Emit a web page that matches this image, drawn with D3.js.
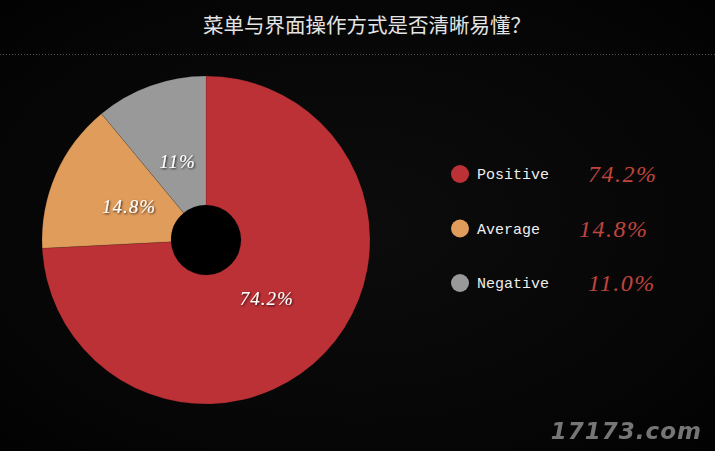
<!DOCTYPE html>
<html><head><meta charset="utf-8">
<script src="https://cdn.jsdelivr.net/npm/d3@7/dist/d3.min.js"></script>
<style>
html,body{margin:0;padding:0;background:#030303;}
svg{display:block;}
</style></head>
<body>
<svg id="c" width="715" height="451"></svg>
<script>
const title = "菜单与界面操作方式是否清晰易懂？";
const categories = ["Positive", "Average", "Negative"];
const values = [74.2, 14.8, 11.0];
const sliceLabels = ["74.2%", "14.8%", "11%"];
const legendValues = ["74.2%", "14.8%", "11.0%"];
const colors = ["#bb3135", "#e09c5b", "#999999"];

const svg = d3.select("#c");
const W = 715, H = 451;

// background with subtle texture
const defs = svg.append("defs");
const rg = defs.append("radialGradient").attr("id","bg").attr("cx","50%").attr("cy","50%").attr("r","70%");
rg.append("stop").attr("offset","0%").attr("stop-color","#0c0c0c");
rg.append("stop").attr("offset","60%").attr("stop-color","#070707");
rg.append("stop").attr("offset","100%").attr("stop-color","#020202");
svg.append("rect").attr("width",W).attr("height",H).attr("fill","url(#bg)");

const sh = defs.append("filter").attr("id","ts").attr("x","-20%").attr("y","-20%").attr("width","140%").attr("height","140%");
sh.append("feDropShadow").attr("dx",1).attr("dy",1).attr("stdDeviation",1).attr("flood-color","#000").attr("flood-opacity",0.8);

// title
svg.append("text").attr("x",367).attr("y",33).attr("text-anchor","middle")
  .attr("font-family","'Noto Sans CJK SC', sans-serif").attr("font-size",20.5)
  .attr("fill","#e4e4e4").text(title);
svg.append("line").attr("x1",0).attr("x2",W).attr("y1",54.5).attr("y2",54.5)
  .attr("stroke","#5a4a48").attr("stroke-width",1).attr("stroke-dasharray","1,2");

// pie
const cx = 206, cy = 240, rOuter = 164, rInner = 35;
const pie = d3.pie().sort(null).value(d => d)(values);
const arc = d3.arc().innerRadius(rInner).outerRadius(rOuter);
const labelArc = d3.arc().innerRadius(84).outerRadius(84);
const g = svg.append("g").attr("transform",`translate(${cx},${cy})`);
g.append("circle").attr("r",rInner).attr("fill","#000");
g.selectAll("path").data(pie).join("path")
  .attr("d", arc).attr("fill",(d,i)=>colors[i])
  .attr("stroke","rgba(0,0,0,0.25)").attr("stroke-width",0.5);
g.selectAll("text").data(pie).join("text")
  .attr("transform", d => `translate(${labelArc.centroid(d)})`)
  .attr("text-anchor","middle").attr("dy","0.35em")
  .attr("font-family","'Liberation Serif', 'DejaVu Serif', serif")
  .attr("font-style","italic").attr("font-size",19).attr("letter-spacing",1)
  .attr("fill","#fff").attr("filter","url(#ts)")
  .text((d,i)=>sliceLabels[i]);

// legend
const legendY = d3.scalePoint().domain(categories).range([174, 283]);
const lg = svg.append("g");
categories.forEach((c,i)=>{
  const y = legendY(c);
  lg.append("circle").attr("cx",460).attr("cy",y).attr("r",9).attr("fill",colors[i]);
  const t = lg.append("text").attr("x",477).attr("y",y).attr("dy","0.35em")
    .attr("font-family","'Liberation Mono', 'DejaVu Sans Mono', monospace")
    .attr("font-size",15).attr("fill","#eeeeee").text(c);
  const w = t.node().getComputedTextLength();
  lg.append("text").attr("x",477 + w + 39).attr("y",y).attr("dy","0.35em")
    .attr("font-family","'Liberation Serif', 'DejaVu Serif', serif")
    .attr("font-style","italic").attr("font-size",24).attr("letter-spacing",1.5)
    .attr("fill","#c0443e").text(legendValues[i]);
});

// watermark
svg.append("text").attr("x",702).attr("y",439).attr("text-anchor","end")
  .attr("font-family","'DejaVu Sans', sans-serif").attr("font-weight","bold")
  .attr("font-style","italic").attr("font-size",23).attr("letter-spacing",1)
  .attr("fill","#8a8a8a").attr("opacity",0.85).text("17173.com");
</script>
</body></html>
